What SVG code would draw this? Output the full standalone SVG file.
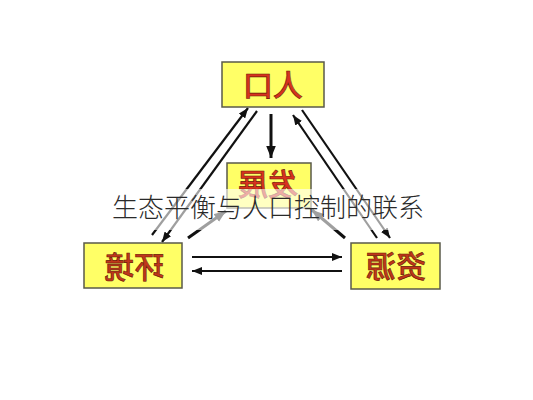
<svg xmlns="http://www.w3.org/2000/svg" width="533" height="400" viewBox="0 0 533 400">
  <defs>
    <marker id="ah" viewBox="0 0 10 8" refX="10" refY="4" markerWidth="10" markerHeight="8" orient="auto" markerUnits="userSpaceOnUse">
      <path d="M0,0 L10,4 L0,8 z" fill="#111"/>
    </marker>
    <marker id="ahb" viewBox="0 0 10 8" refX="10" refY="4" markerWidth="12" markerHeight="10" orient="auto" markerUnits="userSpaceOnUse">
      <path d="M0,0 L10,4 L0,8 z" fill="#111"/>
    </marker>
    <style>
      .box { fill: #ffff66; stroke: #5a5a4a; stroke-width: 1.5; }
      .lbl { font-family: "Noto Sans CJK SC", "Noto Sans CJK JP", sans-serif; font-size: 30px; font-weight: 500; fill: #c0361a; stroke: #6a1a08; stroke-width: 0.6; text-anchor: middle; }
      .ln { stroke: #111; stroke-width: 2.2; fill: none; }
      .thk { stroke: #111; stroke-width: 3; fill: none; }
      .cap { font-family: "Noto Sans CJK SC", "Noto Sans CJK JP", sans-serif; font-size: 26px; font-weight: 300; fill: #2a2a2a; text-anchor: middle; }
    </style>
  </defs>
  <rect width="533" height="400" fill="#ffffff"/>

  <g id="connectors">
    <line class="ln" x1="152" y1="235" x2="248" y2="108" marker-end="url(#ah)"/>
    <line class="ln" x1="257" y1="111" x2="162" y2="242" marker-end="url(#ah)"/>
    <line class="ln" x1="377" y1="238" x2="293" y2="115" marker-end="url(#ah)"/>
    <line class="ln" x1="302" y1="110" x2="390" y2="238" marker-end="url(#ah)"/>
    <line class="thk" x1="271" y1="114" x2="271" y2="158" marker-end="url(#ahb)"/>
    <line class="thk" x1="188" y1="238" x2="226" y2="211" marker-end="url(#ahb)"/>
    <line class="thk" x1="345" y1="238" x2="312" y2="210" marker-end="url(#ahb)"/>
    <line class="ln" x1="192" y1="257" x2="342" y2="257" marker-end="url(#ah)"/>
    <line class="ln" x1="342" y1="271" x2="192" y2="271" marker-end="url(#ah)"/>
  </g>

  <g id="node-renkou">
    <rect class="box" x="222" y="62" width="102" height="45"/>
    <g transform="translate(273 0) scale(-1 1)"><text class="lbl" x="0" y="96" style="fill:#d8321e">人口</text></g>
  </g>
  <g id="node-fazhan">
    <rect class="box" x="227" y="163" width="84" height="45"/>
    <g transform="translate(268 0) scale(-1 1)"><text class="lbl" x="0" y="195" style="fill:#d8321e">发展</text></g>
  </g>
  <g id="node-huanjing">
    <rect class="box" x="84" y="243" width="98" height="45"/>
    <g transform="translate(134 0) scale(-1 1)"><text class="lbl" x="0" y="278">环境</text></g>
  </g>
  <g id="node-ziyuan">
    <rect class="box" x="351" y="243" width="89" height="46"/>
    <g transform="translate(396 0) scale(-1 1)"><text class="lbl" x="0" y="277">资源</text></g>
  </g>

  <rect x="105" y="189" width="325" height="41" fill="#ffffff" fill-opacity="0.6"/>
  <text class="cap" x="268" y="217">生态平衡与人口控制的联系</text>
</svg>
